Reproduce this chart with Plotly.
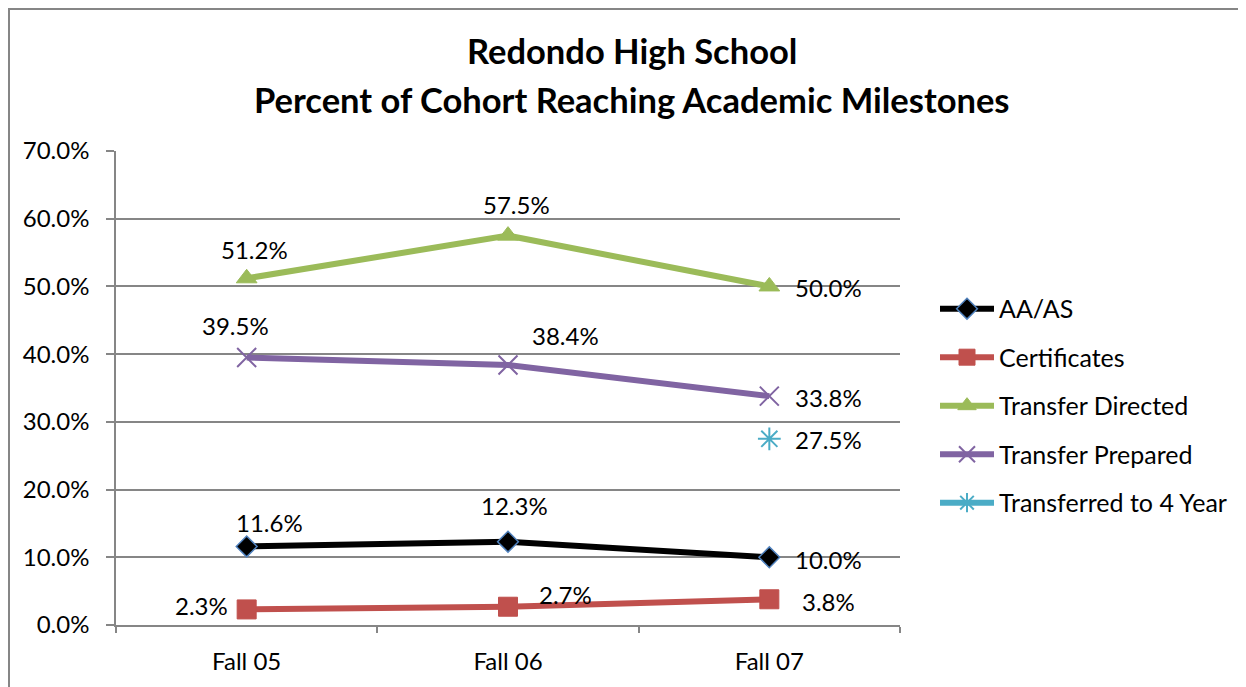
import plotly.graph_objects as go

categories = ["Fall 05", "Fall 06", "Fall 07"]
aa_as = [0.116, 0.123, 0.100]
certificates = [0.023, 0.027, 0.038]
transfer_directed = [0.512, 0.575, 0.500]
transfer_prepared = [0.395, 0.384, 0.338]
transferred_4yr = [None, None, 0.275]
y_ticks = [0, 0.1, 0.2, 0.3, 0.4, 0.5, 0.6, 0.7]

FONT = "Lato"
FS = 24
GRAY = "#868686"
LW = 6

series = [
    ("AA/AS", aa_as, dict(color="#000000", width=LW),
     dict(symbol="diamond", size=16, color="#000000", line=dict(color="#4F81BD", width=1.5))),
    ("Certificates", certificates, dict(color="#C0504D", width=LW),
     dict(symbol="square", size=19, color="#C0504D", line=dict(color="#C0504D", width=1))),
    ("Transfer Directed", transfer_directed, dict(color="#9BBB59", width=LW),
     dict(symbol="triangle-up", size=18, color="#9BBB59", line=dict(color="#9BBB59", width=1))),
    ("Transfer Prepared", transfer_prepared, dict(color="#8064A2", width=LW),
     dict(symbol="x-thin", size=19, color="#8064A2", line=dict(color="#8064A2", width=2))),
    ("Transferred to 4 Year", transferred_4yr, dict(color="#4BACC6", width=LW),
     dict(symbol="asterisk", size=19, color="#4BACC6", line=dict(color="#4BACC6", width=2))),
]

# label offsets in pixels (xshift, yshift) per series/point
label_offsets = [
    [(23, 24), (6, 36), (59, -2)],
    [(-45, 4), (57, 12), (59, -2)],
    [(8, 29), (8, 31), (59, -1)],
    [(-11, 32), (57, 29), (59, -1)],
    [None, None, (59, -1)],
]

# page body has an 8px margin; figure coords = reference coords - 8
OFF = 8
W, H = 1246 - OFF, 687 - OFF
L, R, T, B = 108, 346, 143, 60
pw, ph = W - L - R, H - T - B


def px(xp):
    return (xp - OFF - L) / pw


def py(yp):
    return (H - B - (yp - OFF)) / ph


fig = go.Figure()
annotations = []
for (name, vals, line, marker), offs in zip(series, label_offsets):
    fig.add_trace(go.Scatter(
        x=categories, y=vals, name=name, mode="lines+markers",
        line=line, marker=marker, legendgroup=name, connectgaps=False,
    ))
    for cat, v, off in zip(categories, vals, offs):
        if v is None or off is None:
            continue
        annotations.append(dict(
            x=cat, y=v, xref="x", yref="y", text=f"{v*100:.1f}%",
            showarrow=False, xshift=off[0], yshift=off[1],
            font=dict(family=FONT, size=FS, color="#000000"),
        ))

# title lines
TITLE_X = px(632)
annotations.append(dict(text="<b>Redondo High School</b>", xref="paper", yref="paper",
                        x=TITLE_X, y=py(50), xanchor="center", yanchor="middle", showarrow=False,
                        font=dict(family=FONT, size=34.5, color="#000000")))
annotations.append(dict(text="<b>Percent of Cohort Reaching Academic Milestones</b>", xref="paper", yref="paper",
                        x=TITLE_X, y=py(99), xanchor="center", yanchor="middle", showarrow=False,
                        font=dict(family=FONT, size=34.5, color="#000000")))

shapes = [
    dict(type="line", xref="paper", yref="paper", x0=px(9), x1=px(9), y0=py(7.5), y1=py(700),
         line=dict(color=GRAY, width=2)),
    dict(type="line", xref="paper", yref="paper", x0=px(8), x1=px(1260), y0=py(8.5), y1=py(8.5),
         line=dict(color=GRAY, width=2)),
]

fig.update_layout(
    width=W, height=H,
    margin=dict(l=L, r=R, t=T, b=B),
    paper_bgcolor="white", plot_bgcolor="white",
    font=dict(family=FONT, size=FS, color="#000000"),
    showlegend=True,
    legend=dict(x=px(935), y=py(407), xanchor="left", yanchor="middle",
                traceorder="grouped", tracegroupgap=13,
                font=dict(family=FONT, size=25, color="#000000"),
                itemwidth=54, bgcolor="rgba(0,0,0,0)"),
    annotations=annotations,
    shapes=shapes,
    xaxis=dict(type="category", range=[-0.5, 2.5], showgrid=False, showline=True, linecolor=GRAY,
               linewidth=1.5, ticks="outside", tickson="boundaries", ticklen=6, tickcolor=GRAY,
               tickwidth=1.5, ticklabelstandoff=14, tickfont=dict(family=FONT, size=FS), zeroline=False),
    yaxis=dict(range=[0, 0.7], tickvals=y_ticks, tickformat=".1%", showgrid=True, gridcolor=GRAY,
               gridwidth=1.5, showline=True, linecolor=GRAY, linewidth=1.5, ticks="outside",
               ticklen=8, tickcolor=GRAY, tickwidth=1.5, ticklabelstandoff=12, zeroline=False,
               tickfont=dict(family=FONT, size=FS)),
)

fig.write_html("out.html")
